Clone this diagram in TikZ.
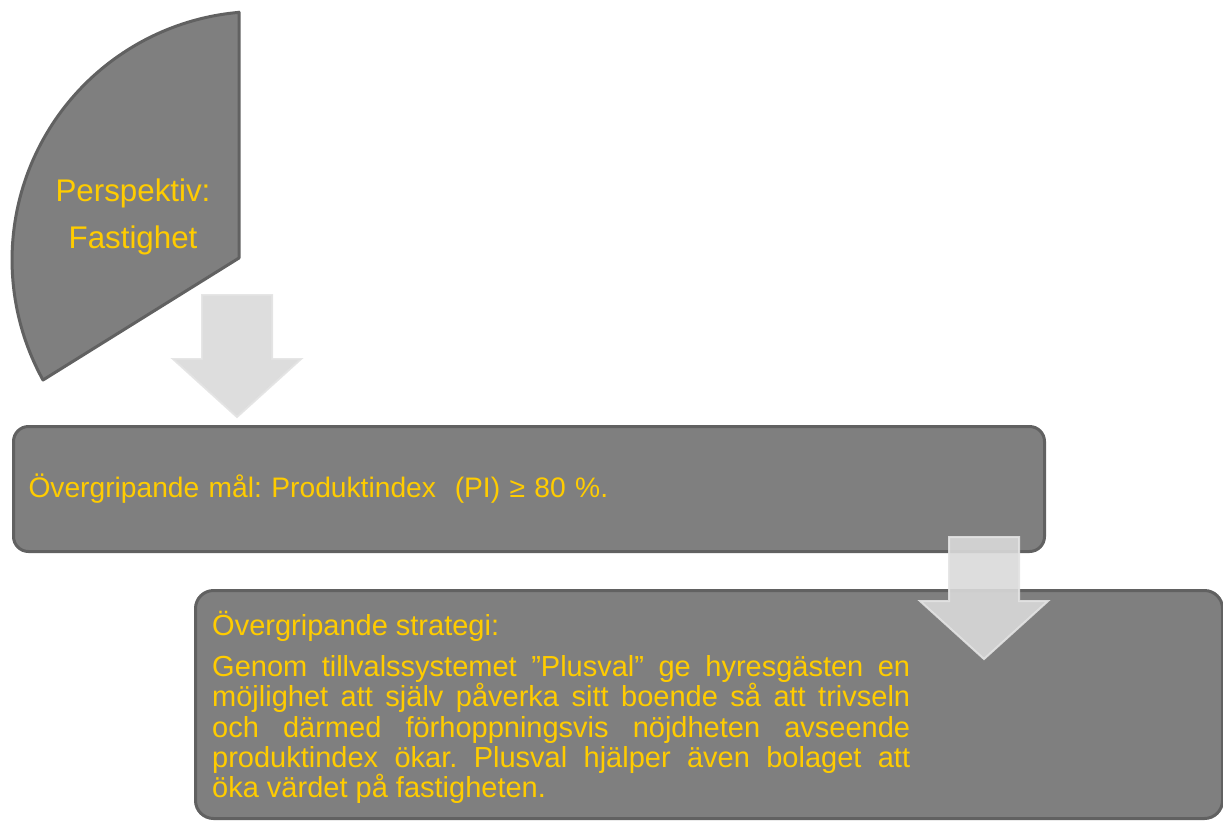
\documentclass[tikz,border=0pt]{standalone}
\usepackage{fontspec}
\setmainfont{Liberation Sans}
\usepackage{xcolor}
\usetikzlibrary{positioning}

\definecolor{boxgray}{HTML}{7F7F7F}
\definecolor{edgegray}{HTML}{616161}
\definecolor{txtyellow}{HTML}{FFCC00}
\definecolor{arrowgray}{HTML}{D9D9D9}

\frenchspacing

\begin{document}
\begin{tikzpicture}[x=1pt, y=-1pt,
		box/.style={draw=edgegray, line width=3pt, fill=boxgray, rounded corners=15pt},
		txt/.style={text=txtyellow, inner sep=0pt},
		bigarrow/.style={fill=arrowgray, fill opacity=0.9, draw=white!89!black, draw opacity=0.9, line width=2pt, line join=miter},
		downarrow/.pic={
			\draw[bigarrow] (-35,0) -- (35,0) -- (35,64) -- (64,64) -- (0,122)
				-- (-64,64) -- (-35,64) -- cycle;
		}]
	\useasboundingbox (0,0) rectangle (1223,820);

	\def\R{248.5};

	% perspective
	\draw[box, rounded corners=0pt, line join=round] (239,12) -- (239,258) -- (43,380)
		arc (151.1:265:\R) -- cycle;
	\node[txt, align=center, font=\fontsize{31.3}{47}\selectfont] (persp) at (133,217)
		{Perspektiv:\\Fastighet};

	\pic (toGoal) at (237,295) {downarrow};

	% goal
	\node[box, txt, anchor=north west, minimum height=125pt, text width=1001pt,
		inner xsep=15pt, align=left, font=\fontsize{28.2}{33}\selectfont] (goal) at (12,425)
		{Övergripande mål: Produktindex \ (PI) ≥ 80 \%.};

	% strategy
	\node[box, anchor=north west, minimum width=1027pt, minimum height=228pt,
		rounded corners=18pt] (strategy) at (194,589) {};
	\node[txt, anchor=west, text width=698pt, align=justify,
		font=\fontsize{29}{30.3}\selectfont] (strategyText)
		at ([xshift=18pt, yshift=-3pt]strategy.west)
		{Övergripande strategi:\par\vspace{11pt}
		Genom tillvalssystemet ”Plusval” ge hyresgästen en\linebreak
		möjlighet att själv påverka sitt boende så att trivseln\linebreak
		och därmed förhoppningsvis nöjdheten avseende\linebreak
		produktindex ökar. Plusval hjälper även bolaget att\linebreak
		öka värdet på fastigheten.};

	\pic (toStrategy) at (984,537) {downarrow};
\end{tikzpicture}
\end{document}
